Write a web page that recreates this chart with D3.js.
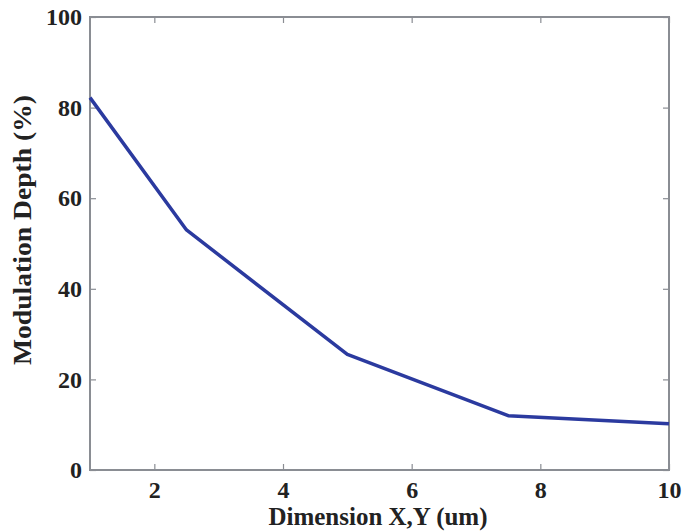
<!DOCTYPE html>
<html>
<head>
<meta charset="utf-8">
<script src="https://cdn.jsdelivr.net/npm/d3@7"></script>
<style>
  body { margin: 0; background: #fff; }
  text { font-family: "Liberation Serif", "Times New Roman", serif; font-weight: bold; fill: #222; }
</style>
</head>
<body>
<svg id="chart" width="682" height="531"></svg>
<script>
// Data
const dimension = [1, 2.5, 5, 7.5, 10];
const depth = [82.2, 53, 25.5, 12, 10.2];
const xTicks = [2, 4, 6, 8, 10];
const yTicks = [0, 20, 40, 60, 80, 100];

const svg = d3.select('#chart');
const margin = {left: 90, right: 13, top: 17, bottom: 61};
const w = 682 - margin.left - margin.right;
const h = 531 - margin.top - margin.bottom;

const x = d3.scaleLinear().domain([1, 10]).range([0, w]);
const y = d3.scaleLinear().domain([0, 100]).range([h, 0]);

const g = svg.append('g')
  .attr('transform', `translate(${margin.left},${margin.top})`);

const axisColor = '#8a8d93';

// inward ticks on all four sides, matlab style
function styleAxis(sel) {
  sel.select('.domain').remove();
  sel.selectAll('line').attr('stroke', axisColor).attr('stroke-width', 1.2);
  sel.selectAll('text').style('font-size', '24px');
}

g.append('g')
  .attr('transform', `translate(0,${h})`)
  .call(d3.axisBottom(x).tickValues(xTicks).tickSize(-6).tickPadding(11).tickFormat(d3.format('d')))
  .call(styleAxis);

g.append('g')
  .call(d3.axisTop(x).tickValues(xTicks).tickSize(-6).tickFormat(''))
  .call(styleAxis);

g.append('g')
  .call(d3.axisLeft(y).tickValues(yTicks).tickSize(-6).tickPadding(8).tickFormat(d3.format('d')))
  .call(styleAxis);

g.append('g')
  .attr('transform', `translate(${w},0)`)
  .call(d3.axisRight(y).tickValues(yTicks).tickSize(-6).tickFormat(''))
  .call(styleAxis);

g.append('rect')
  .attr('width', w).attr('height', h)
  .attr('fill', 'none')
  .attr('stroke', axisColor)
  .attr('stroke-width', 2);

const line = d3.line()
  .x((d, i) => x(dimension[i]))
  .y(d => y(d));

g.append('path')
  .datum(depth)
  .attr('d', line)
  .attr('fill', 'none')
  .attr('stroke', '#2b3a9f')
  .attr('stroke-width', 3.5)
  .attr('stroke-linejoin', 'round');

svg.append('text')
  .attr('x', 378)
  .attr('y', 525)
  .attr('text-anchor', 'middle')
  .attr('textLength', 219)
  .attr('lengthAdjust', 'spacingAndGlyphs')
  .style('font-size', '25px')
  .text('Dimension X,Y (um)');

svg.append('text')
  .attr('transform', 'translate(31,230) rotate(-90)')
  .attr('text-anchor', 'middle')
  .attr('textLength', 270)
  .attr('lengthAdjust', 'spacingAndGlyphs')
  .style('font-size', '25px')
  .text('Modulation Depth (%)');
</script>
</body>
</html>
